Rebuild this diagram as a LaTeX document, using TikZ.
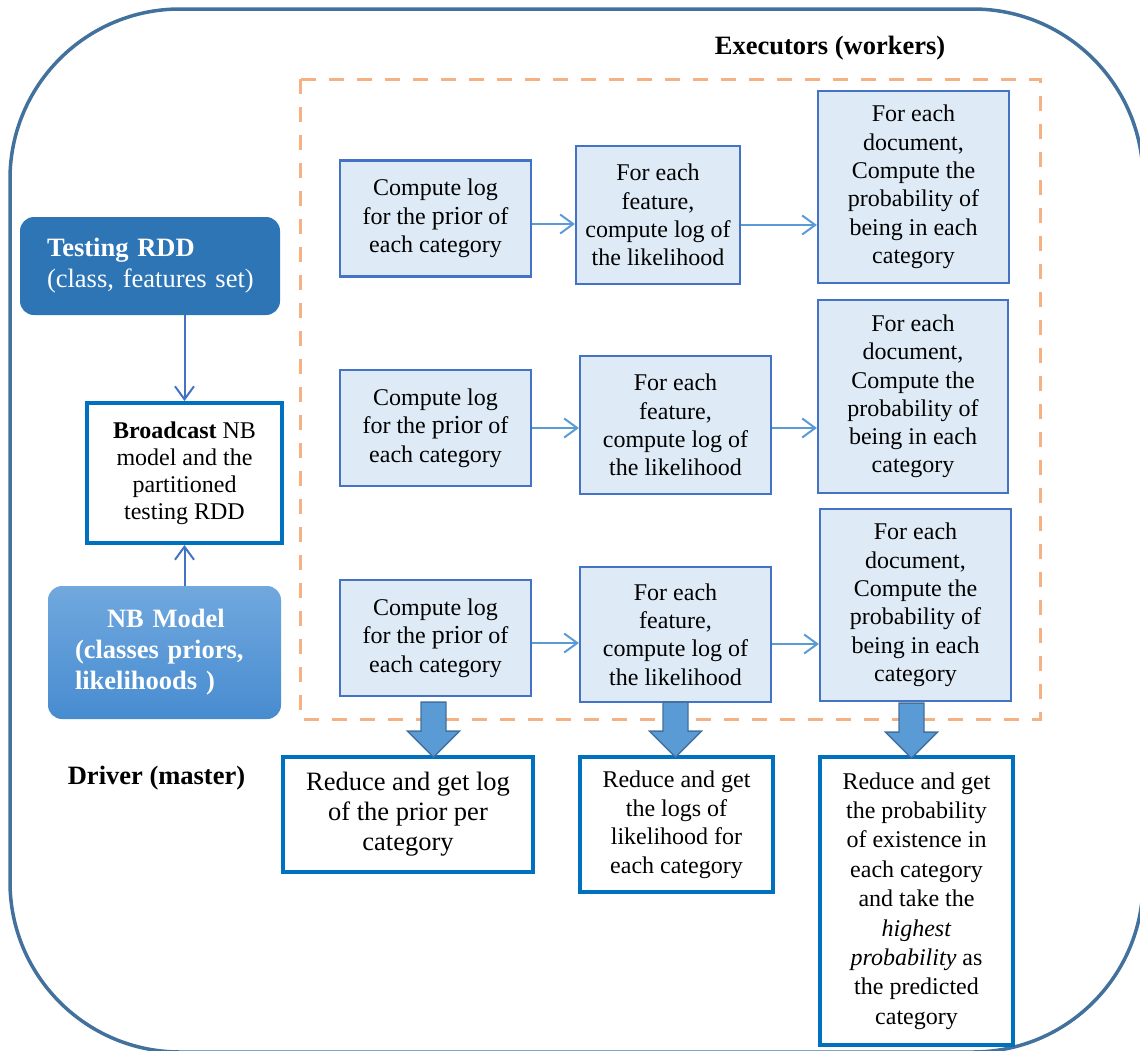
\documentclass[tikz,border=0pt]{standalone}
\usepackage{fontspec}
\IfFontExistsTF{LiberationSerif-Regular.ttf}{%
  \setmainfont{LiberationSerif-Regular.ttf}[BoldFont=LiberationSerif-Bold.ttf,
    ItalicFont=LiberationSerif-Italic.ttf, BoldItalicFont=LiberationSerif-BoldItalic.ttf]}{%
  \setmainfont{Liberation Serif}}
\usetikzlibrary{arrows.meta,calc}
\definecolor{outerc}{HTML}{41719C}
\definecolor{dashc}{HTML}{F4B183}
\definecolor{exfill}{HTML}{DEEBF7}
\definecolor{exline}{HTML}{4472C4}
\definecolor{arrc}{HTML}{5B9BD5}
\definecolor{redline}{HTML}{0070C0}
\definecolor{testfill}{HTML}{2E75B6}
\definecolor{nbtop}{HTML}{71A8DE}
\definecolor{nbbot}{HTML}{478CD0}
\definecolor{blkfill}{HTML}{5B9BD5}
\definecolor{blkline}{HTML}{41719C}
\tikzset{
  exbox/.style={draw=exline, fill=exfill, line width=2.2pt, inner sep=0pt, align=center,
    font=\fontsize{24}{28.3}\selectfont},
  redbox/.style={draw=redline, fill=white, line width=4pt, inner sep=0pt, align=center,
    font=\fontsize{24}{29.4}\selectfont},
  hflow/.style={draw=arrc, line width=2pt, -{Straight Barb[length=13pt,width=19pt,line width=2pt]}},
  vflow/.style={draw=exline, line width=2pt, -{Straight Barb[length=13pt,width=19pt,line width=2pt]}},
  lbl/.style={font=\bfseries\fontsize{26.5}{30}\selectfont, inner sep=0pt},
  pics/blockarrow/.style={code={
    \draw[fill=blkfill, draw=blkline, line width=1.3pt, line join=miter]
      (-12.5,0) -- (12.5,0) -- (12.5,29) -- (26,29) -- (0,55) -- (-26,29) -- (-12.5,29) -- cycle;}}
}
\newcommand{\priortxt}{Compute log\\for the {\fontsize{26}{28.3}\selectfont prior} of\\each category}
\newcommand{\feattxt}{For each\\feature,\\compute log of\\the likelihood}
\newcommand{\doctxt}{For each\\document,\\Compute the\\probability of\\being in each\\category}
\begin{document}
\begin{tikzpicture}[x=1pt,y=-1pt]
\useasboundingbox (0,0) rectangle (1140,1050);
\begin{scope}
\clip (0,0) rectangle (1140,1050);
\draw[outerc, line width=3.5pt, rounded corners=170pt] (10,9) rectangle (1143,1052);
\end{scope}

% executors frame
\draw[dashc, line width=3pt, dash pattern=on 15pt off 13pt] (300,79) rectangle (1040,719);
\node[lbl] (exec) at (830,48) {Executors (workers)};
\node[lbl] (driver) at (156.5,778) {Driver (master)};

% left column
\node[fill=testfill, rounded corners=14pt, minimum width=260pt, minimum height=98pt, inner sep=0pt,
  text=white, text width=210pt, align=left, font=\fontsize{26.5}{31}\selectfont] (test) at (150,266)
  {\hspace*{2pt}\textbf{Testing RDD}\\\hspace*{2pt}(class, features set)};
\node[draw=redline, fill=white, line width=4pt, minimum width=195pt, minimum height=140pt, inner sep=0pt,
  align=center, font=\fontsize{24}{27}\selectfont] (bcast) at (184.5,473)
  {\textbf{Broadcast} NB\\model and the\\partitioned\\testing RDD};
\node[top color=nbtop, bottom color=nbbot, rounded corners=14pt, minimum width=233pt, minimum height=133pt,
  inner sep=0pt, text=white, text width=179pt, align=left, font=\bfseries\fontsize{26.5}{31}\selectfont] (nb) at (164.5,652.5)
  {\hspace*{32pt}NB Model\\(classes priors,\\likelihoods )};
\draw[vflow] (test.south -| bcast.north) -- (bcast.north);
\draw[vflow] (nb.north -| bcast.south) -- (bcast.south);

% executor boxes
\node[exbox, minimum width=191pt, minimum height=116pt] (A1) at (435.5,218.5) {\priortxt};
\node[exbox, minimum width=191pt, minimum height=116pt] (A2) at (435.5,428) {\priortxt};
\node[exbox, minimum width=191pt, minimum height=116pt] (A3) at (435.5,638) {\priortxt};
\node[exbox, minimum width=164pt, minimum height=138pt] (B1) at (658,215) {\feattxt};
\node[exbox, minimum width=191pt, minimum height=138pt] (B2) at (675.5,425) {\feattxt};
\node[exbox, minimum width=191pt, minimum height=135pt] (B3) at (675.5,634.5) {\feattxt};
\node[exbox, minimum width=191pt, minimum height=192pt] (C1) at (913.5,187) {\doctxt};
\node[exbox, minimum width=190pt, minimum height=193pt] (C2) at (913,396.5) {\doctxt};
\node[exbox, minimum width=191pt, minimum height=192pt] (C3) at (915.5,605) {\doctxt};

\draw[hflow] (A1.east |- 0,224) -- (B1.west |- 0,224);
\draw[hflow] (B1.east |- 0,225) -- (C1.west |- 0,225);
\draw[hflow] (A2.east |- 0,428) -- (B2.west |- 0,428);
\draw[hflow] (B2.east |- 0,428) -- (C2.west |- 0,428);
\draw[hflow] (A3.east |- 0,643) -- (B3.west |- 0,643);
\draw[hflow] (B3.east |- 0,644) -- (C3.west |- 0,644);

% reduce boxes
\node[redbox, minimum width=250pt, minimum height=115pt, font=\fontsize{26.5}{30}\selectfont] (R1) at (408,814.5)
  {Reduce and get log\\of the prior per\\category};
\node[redbox, minimum width=193pt, minimum height=135pt, font=\fontsize{24}{28.5}\selectfont] (R2) at (676.5,824.5)
  {Reduce and get\\the logs of\\likelihood for\\each category};
\node[redbox, minimum width=193pt, minimum height=288pt] (R3) at (916.5,901)
  {Reduce and get\\the probability\\of existence in\\each category\\and take the\\\textit{highest}\\\textit{probability} as\\the predicted\\category};

% block arrows
\pic at ($(A3.south)+(-2,5)$) {blockarrow};
\pic at ($(B3.south)+(0,-1)$) {blockarrow};
\pic at ($(C3.south)+(-4,1)$) {blockarrow};
\end{tikzpicture}
\end{document}
